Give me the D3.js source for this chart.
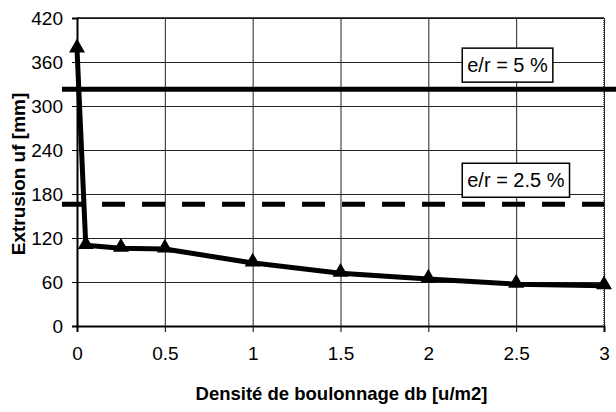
<!DOCTYPE html>
<html>
<head>
<meta charset="utf-8">
<script src="https://cdn.jsdelivr.net/npm/d3@7"></script>
<style>
  html, body { margin: 0; padding: 0; background: #fff; }
  text { font-family: "Liberation Sans", Arial, sans-serif; }
</style>
</head>
<body>
<div id="chart"></div>
<script>
// Data
const densite = [0, 0.05, 0.25, 0.5, 1, 1.5, 2, 2.5, 3];
const extrusion = [378, 110, 106, 105, 86, 72, 64, 57, 55];
const limits = [
    { label: 'e/r = 5 %', value: 323, dashed: false },
    { label: 'e/r = 2.5 %', value: 166, dashed: true },
];
const xTicks = [0, 0.5, 1, 1.5, 2, 2.5, 3];
const yTicks = [0, 60, 120, 180, 240, 300, 360, 420];

const width = 616, height = 412;
const margin = { top: 18, right: 12, bottom: 86, left: 77 };
const iw = width - margin.left - margin.right;
const ih = height - margin.top - margin.bottom;

const svg = d3.select('#chart').append('svg')
    .attr('width', width).attr('height', height);
const g = svg.append('g').attr('transform', `translate(${margin.left},${margin.top})`);

const x = d3.scaleLinear().domain([0, 3]).range([0, iw]);
const y = d3.scaleLinear().domain([0, 420]).range([ih, 0]);

// Grid
g.append('g')
    .call(d3.axisLeft(y).tickValues(yTicks).tickSize(-iw).tickFormat(''))
    .call((s) => s.select('.domain').remove())
    .call((s) => s.selectAll('line').attr('stroke', '#222').attr('stroke-width', 1));
g.append('g').attr('transform', `translate(0,${ih})`)
    .call(d3.axisBottom(x).tickValues(xTicks).tickSize(-ih).tickFormat(''))
    .call((s) => s.select('.domain').remove())
    .call((s) => s.selectAll('line').attr('stroke', '#222').attr('stroke-width', 1));

// Frame top/right
g.append('line').attr('x1', 0).attr('x2', iw).attr('y1', 0).attr('y2', 0)
    .attr('stroke', '#111').attr('stroke-width', 1.5);
g.append('line').attr('x1', iw).attr('x2', iw).attr('y1', 0).attr('y2', ih)
    .attr('stroke', '#333').attr('stroke-width', 1.5).attr('stroke-dasharray', '1,1');

// Axes
const yAxis = g.append('g')
    .call(d3.axisLeft(y).tickValues(yTicks).tickSize(5).tickPadding(9));
const xAxis = g.append('g').attr('transform', `translate(0,${ih})`)
    .call(d3.axisBottom(x).tickValues(xTicks).tickSize(6).tickPadding(15).tickFormat(d3.format('')));
[yAxis, xAxis].forEach((a) => {
    a.select('.domain').attr('stroke', '#000').attr('stroke-width', 2);
    a.selectAll('line').attr('stroke', '#000');
    a.selectAll('text').attr('fill', '#000').style('font-size', '19px')
        .style('font-family', '"Liberation Sans", Arial, sans-serif');
});

// Limit lines
g.selectAll('line.limit').data(limits).enter().append('line')
    .attr('class', 'limit')
    .attr('x1', -15)
    .attr('x2', (d) => d.dashed ? iw : iw + 12)
    .attr('y1', (d) => y(d.value)).attr('y2', (d) => y(d.value))
    .attr('stroke', '#000').attr('stroke-width', 5)
    .attr('stroke-dasharray', (d) => d.dashed ? '23,17' : null);

// Data line
const line = d3.line().x((d, i) => x(densite[i])).y((d) => y(d));
g.append('path').datum(extrusion)
    .attr('fill', 'none').attr('stroke', '#000').attr('stroke-width', 5)
    .attr('stroke-linejoin', 'round')
    .attr('d', line);

g.selectAll('path.marker').data(extrusion).enter().append('path')
    .attr('class', 'marker')
    .attr('transform', (d, i) => `translate(${x(densite[i])},${y(d) - 1})`)
    .attr('d', d3.symbol().type(d3.symbolTriangle).size(110))
    .attr('fill', '#000');

// Limit labels
const boxX = x(2.193);
limits.forEach((d) => {
    const lg = g.append('g').attr('transform', `translate(${boxX},${y(d.value) - 41})`);
    const t = lg.append('text').attr('x', 5).attr('y', 24)
        .style('font-size', '20px').attr('fill', '#000').text(d.label);
    const w = t.node().getComputedTextLength();
    lg.insert('rect', 'text').attr('x', 0).attr('y', 0)
        .attr('width', w + 10).attr('height', 34)
        .attr('fill', '#fff').attr('stroke', '#000').attr('stroke-width', 1.5);
});

// Axis titles
svg.append('text')
    .attr('transform', `translate(25,${margin.top + ih / 2 + 2}) rotate(-90)`)
    .attr('text-anchor', 'middle')
    .style('font-size', '19px').style('font-weight', 'bold')
    .text('Extrusion uf [mm]');
svg.append('text')
    .attr('x', margin.left + iw / 2 + 1).attr('y', 400)
    .attr('text-anchor', 'middle')
    .style('font-size', '18.5px').style('font-weight', 'bold')
    .text('Densité de boulonnage db [u/m2]');
</script>
</body>
</html>
